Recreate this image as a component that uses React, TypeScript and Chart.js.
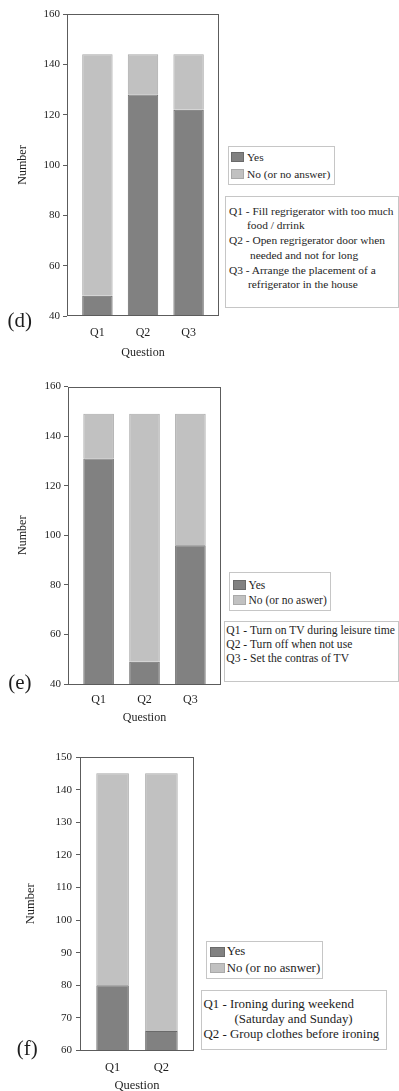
import React, { useEffect, useRef } from "react";
import { Chart, registerables } from "chart.js";

Chart.register(...registerables);

// ---------- DATA ----------
const questionsD = ["Q1", "Q2", "Q3"];
const yesD = [48, 128, 122];
const noD = [96, 16, 22];
const yTicksD = [40, 60, 80, 100, 120, 140, 160];
const legendD = ["Yes", "No (or no answer)"];
const notesD = [
  "Q1 - Fill regrigerator with too much",
  "food / drrink",
  "Q2 - Open regrigerator door when",
  "needed and not for long",
  "Q3 - Arrange the placement of a",
  "refrigerator in the house",
];

const questionsE = ["Q1", "Q2", "Q3"];
const yesE = [131, 49, 96];
const noE = [18, 100, 53];
const yTicksE = [40, 60, 80, 100, 120, 140, 160];
const legendE = ["Yes", "No (or no aswer)"];
const notesE = [
  "Q1 - Turn on TV during leisure time",
  "Q2 - Turn off when not use",
  "Q3 - Set the contras of TV",
];

const questionsF = ["Q1", "Q2"];
const yesF = [80, 66];
const noF = [65, 79];
const yTicksF = [60, 70, 80, 90, 100, 110, 120, 130, 140, 150];
const legendF = ["Yes", "No (or no asnwer)"];
const notesF = [
  "Q1 - Ironing during weekend",
  "(Saturday and Sunday)",
  "Q2 - Group clothes before ironing",
];

const xTitle = "Question";
const yTitle = "Number";
const panelLabels = ["(d)", "(e)", "(f)"];

// ---------- STYLE / LAYOUT ----------
const SERIF = "'Liberation Serif', 'Times New Roman', serif";
const DARK = "#818181";
const DARK_EDGE = "#6a6a6a";
const LIGHT = "#c1c1c1";
const LIGHT_EDGE = "#a9a9a9";
const TEXT = "#1e1e1e";
const W = 399;

type Panel = {
  questions: string[];
  yes: number[];
  no: number[];
  yTicks: number[];
  legend: string[];
  notes: string[];
  label: string;
  canvasTop: number;
  canvasH: number;
  area: { left: number; right: number; top: number; bottom: number };
  xLabelCenter: number;
  xTitleCenter: number;
  yTitleCenterX: number;
  tickFont: number;
  qFont: number;
  titleFont: number;
  yTickPad: number;
  legendBox: { left: number; top: number; width: number; height: number; row: number; padTop: number; font: number; swW: number; swH: number; swLeft: number; gap: number };
  notesBox: { left: number; top: number; width: number; height: number; line: number; padTop: number; padLeft: number; font: number; indents: number[] };
  labelPos: { left: number; top: number; font: number };
};

const panels: Panel[] = [
  {
    questions: questionsD, yes: yesD, no: noD, yTicks: yTicksD, legend: legendD, notes: notesD, label: panelLabels[0],
    canvasTop: 0, canvasH: 366,
    area: { left: 67, right: 219, top: 14, bottom: 316 },
    xLabelCenter: 333, xTitleCenter: 352.5, yTitleCenterX: 23,
    tickFont: 11, qFont: 12, titleFont: 12, yTickPad: 3,
    legendBox: { left: 227.5, top: 146, width: 107, height: 39, row: 17, padTop: 2.5, font: 11.4, swW: 13, swH: 10, swLeft: 3.5, gap: 3 },
    notesBox: { left: 225, top: 195.5, width: 173.5, height: 112.5, line: 14.8, padTop: 8, padLeft: 4, font: 11.4, indents: [0, 18, 0, 21, 0, 19] },
    labelPos: { left: 7.5, top: 309.5, font: 21 },
  },
  {
    questions: questionsE, yes: yesE, no: noE, yTicks: yTicksE, legend: legendE, notes: notesE, label: panelLabels[1],
    canvasTop: 366, canvasH: 372,
    area: { left: 68, right: 221, top: 386.5, bottom: 684 },
    xLabelCenter: 700, xTitleCenter: 718, yTitleCenterX: 23.3,
    tickFont: 11, qFont: 12, titleFont: 12, yTickPad: 3,
    legendBox: { left: 229, top: 572.3, width: 102, height: 38.4, row: 15, padTop: 5, font: 11.5, swW: 13, swH: 10, swLeft: 4, gap: 2.5 },
    notesBox: { left: 224.3, top: 620.7, width: 174.5, height: 61, line: 14.2, padTop: 3, padLeft: 2, font: 11.6, indents: [0, 0, 0] },
    labelPos: { left: 8.3, top: 671.5, font: 21 },
  },
  {
    questions: questionsF, yes: yesF, no: noF, yTicks: yTicksF, legend: legendF, notes: notesF, label: panelLabels[2],
    canvasTop: 738, canvasH: 353,
    area: { left: 80, right: 194, top: 757, bottom: 1050.5 },
    xLabelCenter: 1068, xTitleCenter: 1086.2, yTitleCenterX: 30.5,
    tickFont: 11, qFont: 12.5, titleFont: 12.5, yTickPad: 4,
    legendBox: { left: 205.7, top: 941, width: 117.6, height: 38, row: 16.6, padTop: 2.4, font: 12.8, swW: 15, swH: 10, swLeft: 4, gap: 2 },
    notesBox: { left: 201, top: 989.5, width: 185.7, height: 60.5, line: 15, padTop: 7, padLeft: 2.5, font: 12.9, indents: [0, 31, 0] },
    labelPos: { left: 16.7, top: 1037.5, font: 21 },
  },
];

const framePlugin = {
  id: "frame",
  afterDraw(chart: any) {
    const { ctx, chartArea: a } = chart;
    ctx.save();
    ctx.strokeStyle = "#5c5c5c";
    ctx.lineWidth = 1;
    ctx.strokeRect(Math.round(a.left) + 0.5, Math.round(a.top) + 0.5, Math.round(a.right - a.left) - 1, Math.round(a.bottom - a.top) - 1);
    ctx.restore();
  },
};

function PanelChart({ p }: { p: Panel }) {
  const ref = useRef<HTMLCanvasElement | null>(null);
  useEffect(() => {
    if (!ref.current) return;
    const a = {
      left: p.area.left,
      right: p.area.right,
      top: p.area.top - p.canvasTop,
      bottom: p.area.bottom - p.canvasTop,
    };
    const edge = 0.667;
    const n = p.questions.length;
    const qLH = p.qFont * 1.2;
    const tLH = p.titleFont * 1.2;
    const xLabelPad = p.xLabelCenter - p.area.bottom - qLH / 2;
    const axisH = p.canvasH - a.bottom;
    const titleBottomPad = p.canvasH - (p.xTitleCenter - p.canvasTop + tLH / 2);
    const chart = new Chart(ref.current, {
      type: "bar",
      data: {
        datasets: [
          {
            label: p.legend[0],
            data: p.yes.map((v, i) => ({ x: i, y: v })),
            backgroundColor: DARK,
            borderColor: DARK_EDGE,
            borderWidth: 1,
            categoryPercentage: 1,
            barPercentage: 0.667,
          },
          {
            label: p.legend[1],
            data: p.no.map((v, i) => ({ x: i, y: v })),
            backgroundColor: LIGHT,
            borderColor: LIGHT_EDGE,
            borderWidth: 1,
            categoryPercentage: 1,
            barPercentage: 0.667,
          },
        ],
      } as any,
      options: {
        responsive: false,
        animation: false,
        layout: { padding: { left: 0, top: a.top, right: W - a.right, bottom: 0 } },
        plugins: { legend: { display: false }, tooltip: { enabled: false } },
        scales: {
          x: {
            type: "linear",
            stacked: true,
            offset: false,
            min: -edge,
            max: n - 1 + edge,
            grid: { display: false, drawTicks: false, offset: false },
            border: { display: false },
            afterBuildTicks: (s: any) => {
              s.ticks = p.questions.map((_, i) => ({ value: i }));
            },
            afterFit: (s: any) => {
              s.height = axisH;
            },
            ticks: {
              autoSkip: false,
              maxRotation: 0,
              padding: xLabelPad,
              color: TEXT,
              font: { family: SERIF, size: p.qFont },
              callback: (_v: any, i: number) => p.questions[i],
            },
            title: {
              display: true,
              text: xTitle,
              color: TEXT,
              font: { family: SERIF, size: p.titleFont },
              padding: { top: 0, bottom: titleBottomPad },
            },
          },
          y: {
            stacked: true,
            min: p.yTicks[0],
            max: p.yTicks[p.yTicks.length - 1],
            afterBuildTicks: (s: any) => {
              s.ticks = p.yTicks.map((v) => ({ value: v }));
            },
            afterFit: (s: any) => {
              s.width = a.left;
            },
            grid: { display: true, drawOnChartArea: false, drawTicks: true, tickLength: 4, color: "#5c5c5c" },
            border: { display: false },
            ticks: {
              padding: p.yTickPad,
              color: TEXT,
              font: { family: SERIF, size: p.tickFont },
            },
            title: {
              display: true,
              text: yTitle,
              color: TEXT,
              font: { family: SERIF, size: p.titleFont },
              padding: { top: p.yTitleCenterX - tLH / 2, bottom: 0 },
            },
          },
        },
      } as any,
      plugins: [framePlugin],
    });
    return () => chart.destroy();
  }, [p]);
  return (
    <canvas
      ref={ref}
      width={W}
      height={p.canvasH}
      style={{ position: "absolute", left: 0, top: p.canvasTop, width: W, height: p.canvasH, display: "block" }}
    />
  );
}

function Legend({ p }: { p: Panel }) {
  const b = p.legendBox;
  const colors = [
    [DARK, DARK_EDGE],
    [LIGHT, LIGHT_EDGE],
  ];
  return (
    <div
      style={{
        position: "absolute",
        left: b.left,
        top: b.top,
        width: b.width,
        height: b.height,
        boxSizing: "border-box",
        border: "1px solid #c6c6c6",
        background: "#fff",
        paddingTop: b.padTop - 1,
        fontFamily: SERIF,
        fontSize: b.font,
        color: TEXT,
      }}
    >
      {p.legend.map((t, i) => (
        <div key={i} style={{ display: "flex", alignItems: "center", height: b.row, whiteSpace: "nowrap" }}>
          <span
            style={{
              display: "inline-block",
              width: b.swW,
              height: b.swH,
              boxSizing: "border-box",
              background: colors[i][0],
              border: `1px solid ${colors[i][1]}`,
              marginLeft: b.swLeft - 1,
              marginRight: b.gap,
            }}
          />
          <span>{t}</span>
        </div>
      ))}
    </div>
  );
}

function Notes({ p }: { p: Panel }) {
  const b = p.notesBox;
  return (
    <div
      style={{
        position: "absolute",
        left: b.left,
        top: b.top,
        width: b.width,
        height: b.height,
        boxSizing: "border-box",
        border: "1px solid #c6c6c6",
        background: "#fff",
        paddingTop: b.padTop - 1,
        paddingLeft: b.padLeft - 1,
        fontFamily: SERIF,
        fontSize: b.font,
        lineHeight: `${b.line}px`,
        color: TEXT,
      }}
    >
      {p.notes.map((t, i) => (
        <div key={i} style={{ whiteSpace: "nowrap", paddingLeft: b.indents[i] || 0 }}>
          {t}
        </div>
      ))}
    </div>
  );
}

export default function App() {
  return (
    <div style={{ position: "absolute", left: 0, top: 0, width: W, height: 1091, background: "#fff", overflow: "hidden" }}>
      {panels.map((p, i) => (
        <React.Fragment key={i}>
          <PanelChart p={p} />
          <Legend p={p} />
          <Notes p={p} />
          <div
            style={{
              position: "absolute",
              left: p.labelPos.left,
              top: p.labelPos.top,
              fontFamily: SERIF,
              fontSize: p.labelPos.font,
              lineHeight: `${p.labelPos.font}px`,
              color: TEXT,
              whiteSpace: "nowrap",
            }}
          >
            {p.label}
          </div>
        </React.Fragment>
      ))}
    </div>
  );
}
